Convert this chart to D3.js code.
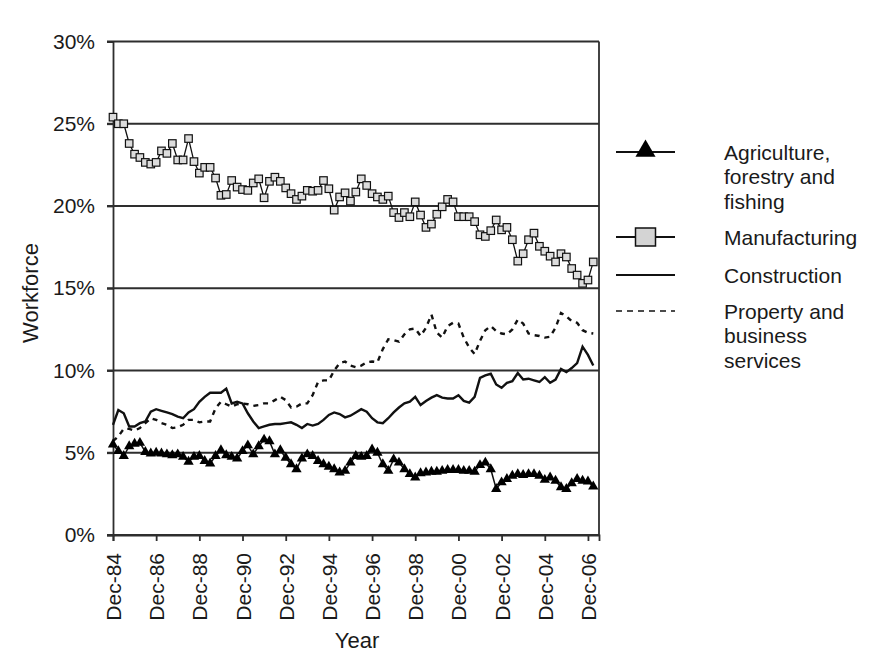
<!DOCTYPE html>
<html><head><meta charset="utf-8">
<script src="https://cdn.jsdelivr.net/npm/d3@7"></script>
<style>
body{margin:0;background:#fff;}
text{font-family:Arial,"Liberation Sans",sans-serif;fill:#1a1a1a;}
</style>
</head><body>
<svg id="chart" width="877" height="668"></svg>
<script>
// Quarterly share of workforce (%), Dec-84 onwards
const agriculture = [5.5,5.1,4.8,5.4,5.55,5.6,5.05,4.95,5.0,4.95,4.9,4.85,4.9,4.75,4.45,4.75,4.8,4.5,4.35,4.8,
  5.15,4.85,4.75,4.65,5.1,5.45,4.9,5.4,5.8,5.7,4.9,5.15,4.7,4.3,4.0,4.65,4.9,4.8,4.5,4.3,
  4.15,4.0,3.8,3.9,4.4,4.8,4.75,4.8,5.2,5.0,4.3,3.9,4.6,4.4,4.0,3.7,3.5,3.75,3.8,3.85,
  3.85,3.9,3.95,3.95,3.95,3.9,3.9,3.85,4.25,4.4,4.0,2.8,3.2,3.4,3.6,3.7,3.65,3.7,3.7,3.6,
  3.35,3.5,3.3,2.9,2.8,3.15,3.4,3.3,3.25,2.95];
const manufacturing = [25.4,25.0,25.0,23.8,23.15,22.95,22.65,22.55,22.65,23.35,23.2,23.8,22.8,22.8,24.1,22.7,22.0,22.35,22.35,21.7,
  20.65,20.7,21.55,21.15,21.0,20.95,21.4,21.65,20.5,21.5,21.75,21.5,21.1,20.75,20.4,20.6,20.95,20.9,20.95,21.55,
  21.05,19.75,20.55,20.8,20.3,20.85,21.65,21.25,20.75,20.55,20.4,20.6,19.6,19.3,19.6,19.35,20.25,19.45,18.7,18.9,
  19.5,19.95,20.4,20.25,19.35,19.35,19.35,19.05,18.25,18.15,18.5,19.15,18.55,18.7,17.95,16.65,17.1,17.95,18.35,17.55,
  17.25,16.95,16.6,17.1,16.9,16.2,15.8,15.3,15.5,16.6];
const construction = [6.7,7.6,7.4,6.6,6.6,6.8,6.9,7.5,7.65,7.55,7.45,7.35,7.2,7.1,7.45,7.65,8.1,8.4,8.65,8.65,
  8.65,8.9,8.0,8.1,8.0,7.4,6.9,6.5,6.6,6.7,6.75,6.75,6.8,6.85,6.7,6.5,6.75,6.65,6.75,7.0,
  7.3,7.45,7.35,7.15,7.25,7.45,7.65,7.5,7.1,6.85,6.8,7.1,7.45,7.75,8.0,8.1,8.4,7.9,8.15,8.35,
  8.5,8.35,8.3,8.3,8.5,8.15,8.05,8.4,9.55,9.7,9.8,9.15,8.95,9.25,9.35,9.85,9.45,9.5,9.4,9.3,
  9.6,9.25,9.45,10.1,9.9,10.15,10.45,11.45,10.95,10.3];
const property = [5.7,6.0,6.45,6.45,6.35,6.5,6.8,7.1,7.0,6.8,6.7,6.5,6.55,6.7,7.0,7.0,6.85,6.9,6.9,7.7,
  8.1,7.95,7.8,7.95,8.0,7.95,7.85,7.9,8.0,8.0,8.2,8.4,8.2,7.75,7.8,8.0,8.0,8.5,9.3,9.4,
  9.4,10.0,10.45,10.55,10.3,10.2,10.3,10.5,10.55,10.5,11.3,11.9,11.85,11.75,12.2,12.5,12.55,12.1,12.6,13.4,
  12.3,12.0,12.7,12.9,12.85,12.0,11.4,11.0,11.8,12.45,12.7,12.4,12.25,12.2,12.5,13.1,12.85,12.25,12.15,12.1,
  12.0,12.05,12.6,13.5,13.3,13.0,12.9,12.45,12.3,12.25];
const xTickLabels = ["Dec-84","Dec-86","Dec-88","Dec-90","Dec-92","Dec-94","Dec-96","Dec-98","Dec-00","Dec-02","Dec-04","Dec-06"];
const yTicks = [0,5,10,15,20,25,30];
const seriesNames = ["Agriculture,\nforestry and\nfishing","Manufacturing","Construction","Property and\nbusiness\nservices"];

const quarters = manufacturing.map((_, i) => new Date(1984, 11 + 3 * i, 1));
const tickDates = xTickLabels.map((_, i) => new Date(1984 + 2 * i, 11, 1));

const svg = d3.select("#chart");
const L = 113, R = 599, T = 41.5, B = 535;
const gridColor = "#2e2e2e";
const x = d3.scaleTime().domain([new Date(1984, 11, 1), new Date(2007, 5, 6)]).range([L, R]);
const y = d3.scaleLinear().domain([0, 30]).range([B, T]);

// gridlines
svg.append("g").selectAll("line").data(yTicks).join("line")
  .attr("x1", L - 6).attr("x2", R).attr("y1", d => y(d)).attr("y2", d => y(d))
  .attr("stroke", gridColor).attr("stroke-width", 1.8);

// y axis
const yAxis = svg.append("g").attr("transform", `translate(${L},0)`)
  .call(d3.axisLeft(y).tickValues(yTicks).tickFormat(d => d + "%").tickSize(6).tickPadding(12));
yAxis.select(".domain").attr("stroke", gridColor).attr("stroke-width", 1.8);
yAxis.selectAll(".tick line").attr("stroke", gridColor).attr("stroke-width", 1.8);
yAxis.selectAll("text").style("font-size", "21px").attr("fill", "#1a1a1a");

// x axis
const xAxis = svg.append("g").attr("transform", `translate(0,${B})`)
  .call(d3.axisBottom(x).tickValues(tickDates).tickFormat((d, i) => xTickLabels[i]).tickSize(6));
xAxis.select(".domain").attr("stroke", gridColor).attr("stroke-width", 1.8);
xAxis.selectAll(".tick line").attr("stroke", gridColor).attr("stroke-width", 1.8);
xAxis.selectAll("text").style("font-size", "21px").attr("fill", "#1a1a1a")
  .attr("text-anchor", "end").attr("y", 0).attr("dy", "0.36em")
  .attr("transform", "translate(0,18) rotate(-90)");

// right border
svg.append("line").attr("x1", R).attr("x2", R).attr("y1", T).attr("y2", B)
  .attr("stroke", gridColor).attr("stroke-width", 1.8);

const line = d3.line().x((d, i) => x(quarters[i])).y(d => y(d));

// property (dashed)
svg.append("path").datum(property).attr("d", line).attr("fill", "none")
  .attr("stroke", "#111").attr("stroke-width", 2.4).attr("stroke-dasharray", "5,5");
// construction (solid)
svg.append("path").datum(construction).attr("d", line).attr("fill", "none")
  .attr("stroke", "#111").attr("stroke-width", 2.4);
// agriculture
svg.append("path").datum(agriculture).attr("d", line).attr("fill", "none")
  .attr("stroke", "#111").attr("stroke-width", 1.5);
svg.append("g").selectAll("path").data(agriculture).join("path")
  .attr("d", d3.symbol(d3.symbolTriangle, 46))
  .attr("transform", (d, i) => `translate(${x(quarters[i])},${y(d)})`)
  .attr("fill", "#000");
// manufacturing
svg.append("path").datum(manufacturing).attr("d", line).attr("fill", "none")
  .attr("stroke", "#111").attr("stroke-width", 1.3);
svg.append("g").selectAll("rect").data(manufacturing).join("rect")
  .attr("x", (d, i) => x(quarters[i]) - 3.75).attr("y", d => y(d) - 3.75)
  .attr("width", 7.5).attr("height", 7.5)
  .attr("fill", "#dcdcdc").attr("stroke", "#111").attr("stroke-width", 1.2);

// axis titles
svg.append("text").attr("transform", "translate(30,293) rotate(-90)")
  .attr("text-anchor", "middle").attr("dy", "0.36em").style("font-size", "22px").text("Workforce");
svg.append("text").attr("x", 357).attr("y", 640).attr("text-anchor", "middle")
  .attr("dy", "0.36em").style("font-size", "22px").text("Year");

// legend
const lx1 = 616, lx2 = 675, lcx = (lx1 + lx2) / 2, tx = 724;
const legendY = [152, 237, 275, 311];
const lg = svg.append("g");
lg.append("line").attr("x1", lx1).attr("x2", lx2).attr("y1", legendY[0]).attr("y2", legendY[0])
  .attr("stroke", "#111").attr("stroke-width", 1.8);
lg.append("path").attr("d", d3.symbol(d3.symbolTriangle, 175))
  .attr("transform", `translate(${lcx},${legendY[0] - 1})`).attr("fill", "#000");
lg.append("line").attr("x1", lx1).attr("x2", lx2).attr("y1", legendY[1]).attr("y2", legendY[1])
  .attr("stroke", "#111").attr("stroke-width", 1.8);
lg.append("rect").attr("x", lcx - 10).attr("y", legendY[1] - 9).attr("width", 20).attr("height", 18)
  .attr("fill", "#d4d4d4").attr("stroke", "#111").attr("stroke-width", 1.5);
lg.append("line").attr("x1", lx1).attr("x2", lx2).attr("y1", legendY[2]).attr("y2", legendY[2])
  .attr("stroke", "#111").attr("stroke-width", 1.8);
lg.append("line").attr("x1", lx1).attr("x2", lx2).attr("y1", legendY[3]).attr("y2", legendY[3])
  .attr("stroke", "#111").attr("stroke-width", 1.6).attr("stroke-dasharray", "6,5");

seriesNames.forEach((name, k) => {
  const t = lg.append("text").attr("x", tx).attr("y", legendY[k]).style("font-size", "21px");
  name.split("\n").forEach((s, j) => {
    t.append("tspan").attr("x", tx).attr("y", legendY[k] + j * 24.5).attr("dy", "0.36em").text(s);
  });
});
</script>
</body></html>
